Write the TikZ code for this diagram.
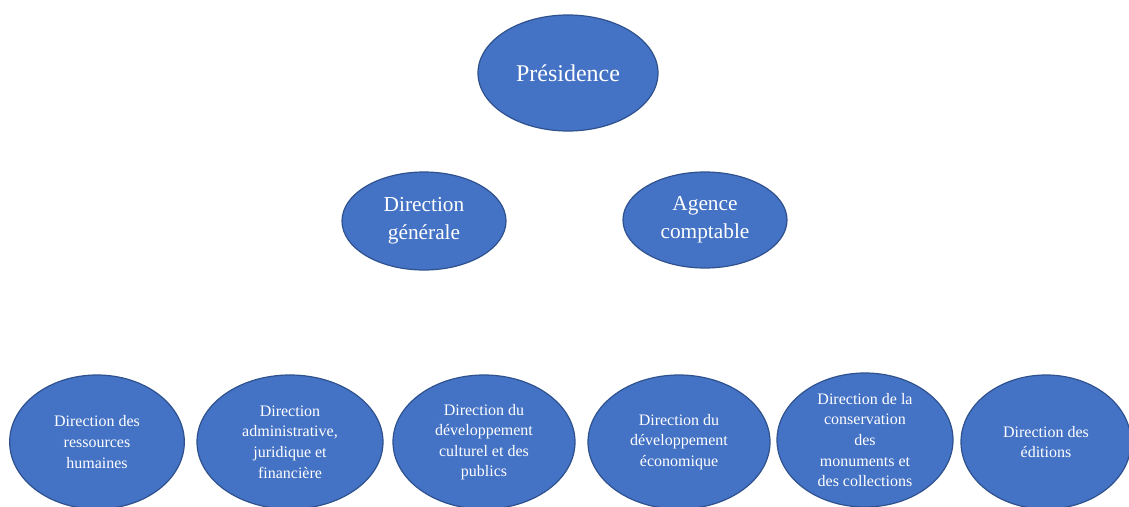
\documentclass[tikz,border=0pt]{standalone}
\usepackage{fontspec}
\setmainfont{Liberation Serif}
\usetikzlibrary{shapes.geometric}
\definecolor{unitfill}{HTML}{4472C4}
\definecolor{unitline}{HTML}{2F528F}
\tikzset{
  unit/.style={ellipse, fill=unitfill, draw=unitline, line width=0.9pt,
    text=white, align=center, inner sep=0pt},
  top/.style={unit, font=\fontsize{18}{22}\selectfont},
  mid/.style={unit, font=\fontsize{16}{21}\selectfont},
  low/.style={unit, font=\fontsize{12}{15.4}\selectfont,
    minimum height=100.5pt}
}
\begin{document}
\begin{tikzpicture}[x=0.75pt, y=-0.75pt]
\clip (0,0) rectangle (1129,507);
\fill[white] (0,0) rectangle (1129,507);
% top level
\node[top, minimum width=135pt, minimum height=87pt] (pres) at (568,73) {Présidence};
% second level
\node[mid, minimum width=123pt, minimum height=73.5pt] (dg) at (424,221) {Direction\\générale};
\node[mid, minimum width=123pt, minimum height=72pt] (ac) at (705,220) {Agence\\comptable};
% directions
\node[low, minimum width=131pt] (drh) at (97,442) {Direction des\\ressources\\humaines};
\node[low, minimum width=139.5pt] (daj) at (290,442) {Direction\\administrative,\\juridique et\\financière};
\node[low, minimum width=136.5pt] (ddc) at (484,442) {Direction du\\développement\\culturel et des\\publics};
\node[low, minimum width=136.5pt] (dde) at (679,442) {Direction du\\développement\\économique};
\node[low, minimum width=132pt] (dcm) at (865,440) {Direction de la\\conservation\\des\\monuments et\\des collections};
\node[low, minimum width=127.5pt] (ded) at (1046,442) {Direction des\\éditions};
\end{tikzpicture}
\end{document}
